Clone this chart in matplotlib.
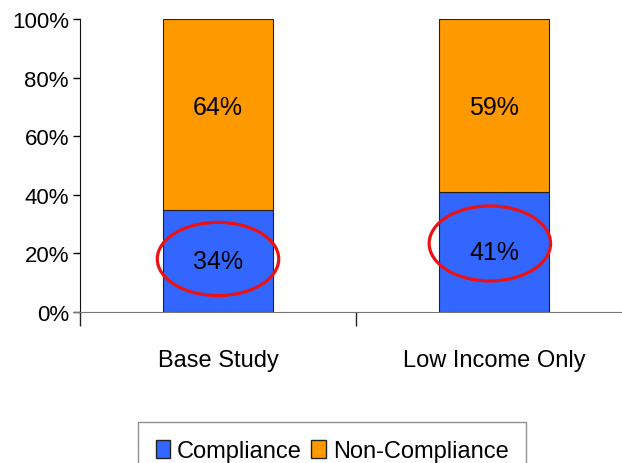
import matplotlib.pyplot as plt
from matplotlib.patches import Ellipse, Patch
import numpy as np

plt.rcParams['font.family'] = ['Liberation Sans', 'DejaVu Sans']

# Daten
categories = ['Base Study', 'Low Income Only']
compliance = [34, 41]
non_compliance = [64, 59]

comp = np.array(compliance, dtype=float)
non = np.array(non_compliance, dtype=float)
total = comp + non
comp_pct = comp / total * 100
non_pct = non / total * 100

blue = '#3366FF'
orange = '#FF9900'

fig = plt.figure(figsize=(6.22, 4.64), dpi=100)
ax = fig.add_axes([80 / 622, 151 / 464, 552 / 622, 293 / 464])

x = np.arange(len(categories))
w = 0.40
ax.bar(x, comp_pct, w, color=blue, edgecolor='#222222', linewidth=0.8)
ax.bar(x, non_pct, w, bottom=comp_pct, color=orange, edgecolor='#222222', linewidth=0.8)

for i in range(len(categories)):
    ax.text(x[i], comp_pct[i] / 2, f'{compliance[i]}%', ha='center', va='center', fontsize=18)
    ax.text(x[i], 70, f'{non_compliance[i]}%', ha='center', va='center', fontsize=18)

# Markierungen
ax.add_patch(Ellipse((0, 18.1), 0.44, 25, fill=False, edgecolor='#EE1111', linewidth=2.3, zorder=5))
ax.add_patch(Ellipse((0.985, 23.4), 0.44, 25.6, fill=False, edgecolor='#EE1111', linewidth=2.3, zorder=5))

ax.set_xlim(-0.5, 1.5)
ax.set_ylim(0, 100)
ax.set_yticks([0, 20, 40, 60, 80, 100])
ax.set_yticklabels([f'{v}%' for v in [0, 20, 40, 60, 80, 100]], fontsize=16)
ax.tick_params(axis='y', direction='out', length=5, width=1, pad=3)

ax.set_xticks([-0.5, 0.5, 1.5])
ax.set_xticklabels([])
ax.tick_params(axis='x', which='major', direction='out', length=10, width=1, color='#222222')
ax.set_xticks(x, minor=True)
ax.set_xticklabels(categories, minor=True, fontsize=17)
ax.tick_params(axis='x', which='minor', length=0, pad=27)

ax.spines['top'].set_visible(False)
ax.spines['right'].set_visible(False)
ax.spines['bottom'].set_color('#777777')
ax.spines['left'].set_color('#111111')
ax.spines['bottom'].set_bounds(-0.52, 1.6)

handles = [Patch(facecolor=blue, edgecolor='#222222'), Patch(facecolor=orange, edgecolor='#222222')]
fig.legend(handles, ['Compliance', 'Non-Compliance'], loc='upper center', bbox_to_anchor=(0.534, 0.088),
           ncol=2, fontsize=17, frameon=True, fancybox=False, edgecolor='#777777', borderaxespad=0,
           handlelength=0.6, handleheight=0.8, handletextpad=0.3, columnspacing=0.4, borderpad=0.75)

fig.savefig('out.png', dpi=100)
